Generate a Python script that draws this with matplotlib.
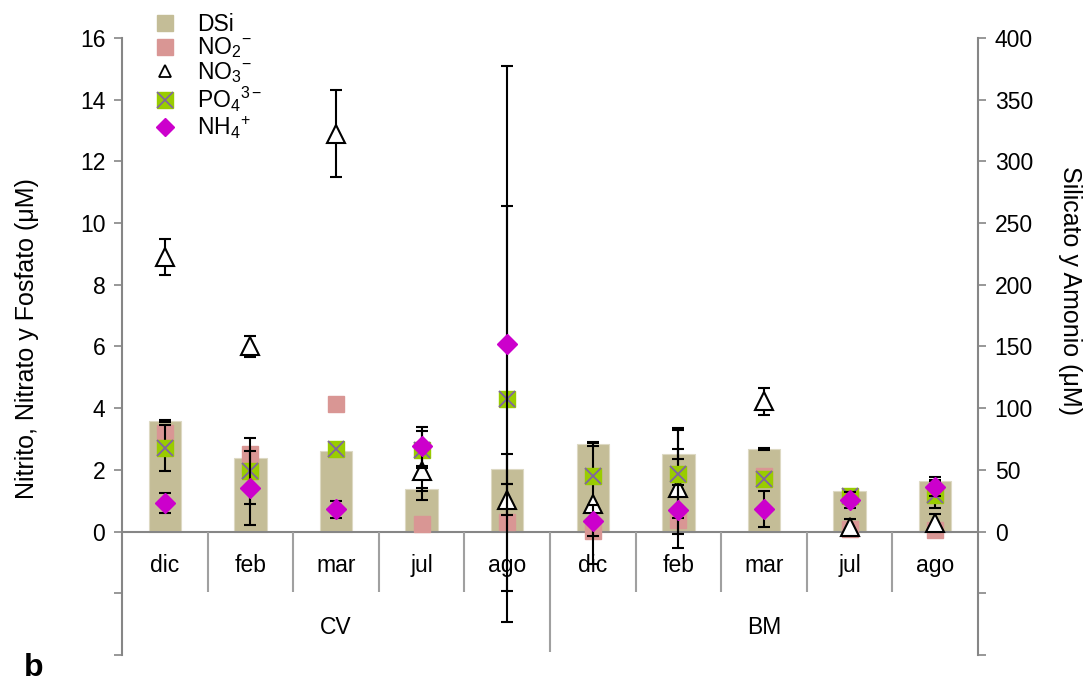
import numpy as np
import matplotlib
matplotlib.use("Agg")
import matplotlib.pyplot as plt
from matplotlib.lines import Line2D

plt.rcParams['font.family'] = ['Liberation Sans', 'DejaVu Sans']
plt.rcParams['mathtext.fontset'] = 'custom'
plt.rcParams['mathtext.rm'] = 'Liberation Sans'
plt.rcParams['mathtext.it'] = 'Liberation Sans'

months = ['dic', 'feb', 'mar', 'jul', 'ago', 'dic', 'feb', 'mar', 'jul', 'ago']
sites = ['CV', 'BM']

# left axis (uM): nitrite, nitrate, phosphate
no2 = [3.21, 2.52, 4.12, 0.25, 0.32, 0.03, 0.39, 1.80, 0.09, 0.05]
no3 = [8.90, 6.00, 12.90, 1.96, 1.03, 0.91, 1.42, 4.22, 0.14, 0.28]
no3_err = [0.58, 0.34, 1.40, 0.92, 0.50, 1.95, 1.95, 0.43, 0.27, 0.29]
po4 = [2.70, 1.97, 2.68, 2.65, 4.31, 1.79, 1.87, 1.71, 1.15, 1.20]
po4_err = [0.75, 1.06, 0.10, 0.60, 6.25, 0.10, 1.43, 0.10, 0.10, 0.43]

# right axis (uM): silicate and ammonium
dsi = [90.0, 60.0, 65.7, 34.3, 50.5, 70.8, 62.7, 66.8, 33.3, 41.4]
dsi_err = [0.8, 4.0, 0.8, 1.2, 12.3, 1.5, 4.0, 0.8, 0.8, 0.8]
nh4 = [23.3, 35.7, 18.0, 69.0, 152.0, 8.9, 17.8, 18.5, 25.5, 36.5]
nh4_err = [8.0, 30.0, 7.0, 16.0, 225.0, 12.4, 19.7, 14.6, 6.7, 8.0]

C_DSI = '#C4BD97'
C_NO2 = '#D99694'
C_PO4 = '#99CC00'
C_X = '#8064A2'
C_NH4 = '#CC00CC'
GRAY = '#868686'
FS = 16.5

x = np.arange(len(months)) + 0.5

fig = plt.figure(figsize=(10.91, 6.86), dpi=100)
ax = fig.add_axes([0.1118, 0.0452, 0.7846, 0.8994])
ax2 = ax.twinx()
ax.set_zorder(ax2.get_zorder() + 1)
ax.patch.set_visible(False)

ax.set_xlim(0, 10)
ax.set_ylim(-4, 16)
ax2.set_ylim(-100, 400)

ekw = dict(ecolor='black', elinewidth=1.5, capsize=4.3, capthick=1.5)

# silicate bars on the right scale, behind everything
ax2.bar(x, dsi, width=0.38, color=C_DSI, edgecolor='#DDD9C3', linewidth=0.8, zorder=1)
ax2.errorbar(x, dsi, yerr=dsi_err, fmt='none', zorder=2, **ekw)

ax.plot(x, no2, 's', ms=11.5, color=C_NO2, mec=C_NO2, zorder=3)
ax.errorbar(x, no3, yerr=no3_err, fmt='^', ms=12.5, mfc='white', mec='black',
            mew=1.5, zorder=4, **ekw)
ax.errorbar(x, po4, yerr=po4_err, fmt='s', ms=12, mfc=C_PO4, mec=C_PO4,
            zorder=5, **ekw)
ax.plot(x, po4, 'x', ms=12, mec=C_X, mew=1.3, zorder=5.5)
ax.errorbar(x, nh4, yerr=nh4_err, fmt='D', ms=10, mfc=C_NH4, mec=C_NH4,
            transform=ax2.transData, zorder=6, **ekw)

# category axis drawn in the lower band
ax.axhline(0, color=GRAY, lw=1.5, zorder=2)
for k in range(1, 10):
    bottom = -3.9 if k == 5 else -1.95
    ax.vlines(k, bottom, 0, color='#A0A0A0', lw=1.5, zorder=2)
for xi, m in zip(x, months):
    ax.text(xi, -1.1, m, ha='center', va='center', fontsize=FS)
for i, s in enumerate(sites):
    ax.text(2.5 + 5 * i, -3.1, s, ha='center', va='center', fontsize=FS)

for a in (ax, ax2):
    for side in ('top', 'bottom'):
        a.spines[side].set_visible(False)
ax.spines['right'].set_visible(False)
ax2.spines['left'].set_visible(False)
ax.spines['left'].set_color(GRAY)
ax.spines['left'].set_linewidth(1.5)
ax2.spines['right'].set_color(GRAY)
ax2.spines['right'].set_linewidth(1.5)

lt = np.arange(-4, 17, 2)
ax.set_yticks(lt)
ax.set_yticklabels([str(v) if v >= 0 else '' for v in lt])
rt = np.arange(-100, 401, 50)
ax2.set_yticks(rt)
ax2.set_yticklabels([str(v) if v >= 0 else '' for v in rt])
ax.set_xticks([])
ax.tick_params(axis='y', direction='out', length=6, width=1.2, color=GRAY,
               labelsize=FS, pad=6)
ax2.tick_params(axis='y', direction='out', length=6, width=1.2, color=GRAY,
                labelsize=FS, pad=6)

fig.text(0.025, 0.507, 'Nitrito, Nitrato y Fosfato (\u03bcM)', rotation=90,
         ha='center', va='center', fontsize=18)
fig.text(0.981, 0.577, 'Silicato y Amonio (\u03bcM)', rotation=-90,
         ha='center', va='center', fontsize=18)
fig.text(0.022, 0.026, 'b', fontsize=23, fontweight='bold', ha='left', va='center')

handles = [
    Line2D([], [], ls='none', marker='s', ms=11, color=C_DSI),
    Line2D([], [], ls='none', marker='s', ms=11, color=C_NO2),
    Line2D([], [], ls='none', marker='^', ms=9, mfc='white', mec='black', mew=1.3),
    (Line2D([], [], ls='none', marker='s', ms=11, color=C_PO4),
     Line2D([], [], ls='none', marker='x', ms=11, mec=C_X, mew=1.2)),
    Line2D([], [], ls='none', marker='D', ms=9, color=C_NH4),
]
labels = ['DSi', r'NO$_2$$^{-}$', r'NO$_3$$^{-}$', r'PO$_4$$^{3-}$', r'NH$_4$$^{+}$']
fig.legend(handles, labels, loc='upper left', bbox_to_anchor=(0.132, 0.995),
           frameon=False, fontsize=FS, handlelength=1.0, handletextpad=0.9,
           labelspacing=0.0, borderaxespad=0)

fig.savefig('out.png', dpi=100)
